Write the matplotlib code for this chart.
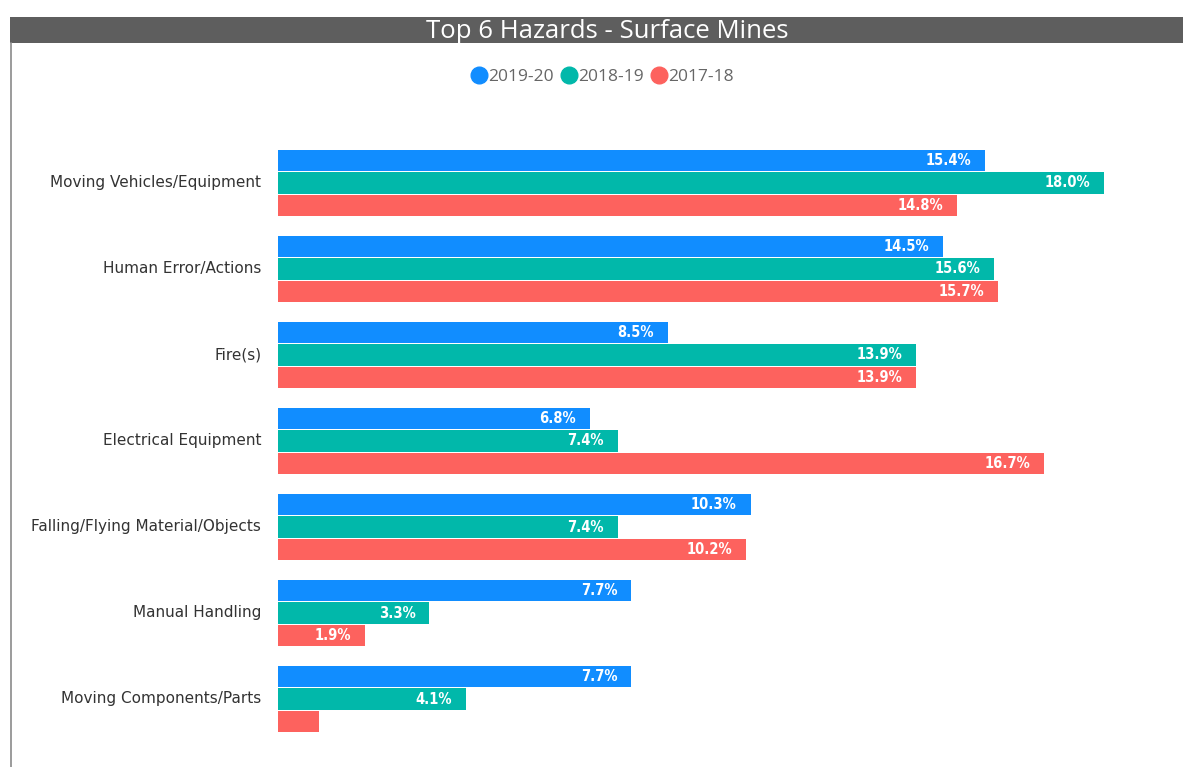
import matplotlib
matplotlib.use("Agg")
import matplotlib.pyplot as plt
from matplotlib.patches import Rectangle
from matplotlib.lines import Line2D
import numpy as np

categories = ["Moving Vehicles/Equipment", "Human Error/Actions", "Fire(s)",
              "Electrical Equipment", "Falling/Flying Material/Objects",
              "Manual Handling", "Moving Components/Parts"]
series_names = ["2019-20", "2018-19", "2017-18"]
v_2019_20 = [15.4, 14.5, 8.5, 6.8, 10.3, 7.7, 7.7]
v_2018_19 = [18.0, 15.6, 13.9, 7.4, 7.4, 3.3, 4.1]
v_2017_18 = [14.8, 15.7, 13.9, 16.7, 10.2, 1.9, 0.9]
show_label_2017_18 = [True, True, True, True, True, True, False]

colors = ["#118DFF", "#01B8AA", "#FD625E"]

W, H = 1183, 767
fig = plt.figure(figsize=(W / 100, H / 100), dpi=100)
fig.patch.set_facecolor("white")

# title bar
fig.patches.append(Rectangle((10 / W, 1 - 43 / H), 1 - 10 / W, 26 / H,
                             transform=fig.transFigure, facecolor="#5E5E5E",
                             edgecolor="none", zorder=0))
fig.text(607 / W, 1 - 31 / H, "Top 6 Hazards - Surface Mines", color="white",
         fontsize=18.5, ha="center", va="center", family="Open Sans")
# left frame line
fig.add_artist(Line2D([10.5 / W, 10.5 / W], [0, 1 - 43 / H], transform=fig.transFigure,
                      color="#8A8A8A", lw=1.2))

# axes
x0, x1 = 278, 1104
ytop, ybot = 140, 742
ax = fig.add_axes([x0 / W, 1 - ybot / H, (x1 - x0) / W, (ybot - ytop) / H])
ax.set_xlim(0, 18.0)
ax.set_ylim(6.5, -0.5)
ax.axis("off")

n = len(categories)
y = np.arange(n)
bh = 0.258
all_vals = [v_2019_20, v_2018_19, v_2017_18]
shows = [[True] * n, [True] * n, show_label_2017_18]
for k, (vals, col, show) in enumerate(zip(all_vals, colors, shows)):
    ys = y + (k - 1) * bh
    ax.barh(ys, vals, height=bh * 0.96, color=col, edgecolor="none")
    for yi, v, s in zip(ys, vals, show):
        if s:
            ax.annotate(f"{v:.1f}%", xy=(v, yi), xytext=(-10, 0), textcoords="offset points",
                        ha="right", va="center", color="white", fontsize=10.5,
                        fontweight="bold", family="DejaVu Sans", fontstretch="condensed")

for yi, c in zip(y, categories):
    ax.annotate(c, xy=(0, yi), xytext=(-12, 0), textcoords="offset points",
                ha="right", va="center", color="#333333", fontsize=11,
                family="DejaVu Sans", annotation_clip=False)

handles = [Line2D([], [], marker="o", linestyle="none", markersize=12,
                  markerfacecolor=c, markeredgecolor=c) for c in colors]
fig.legend(handles, series_names, loc="center", bbox_to_anchor=(602 / W, 1 - 77 / H),
           ncol=3, frameon=False, handletextpad=0.0, columnspacing=0.4,
           handlelength=1.0, prop={"family": "Open Sans", "size": 12.5},
           labelcolor="#666666")

fig.savefig("out.png", dpi=100, facecolor="white")
